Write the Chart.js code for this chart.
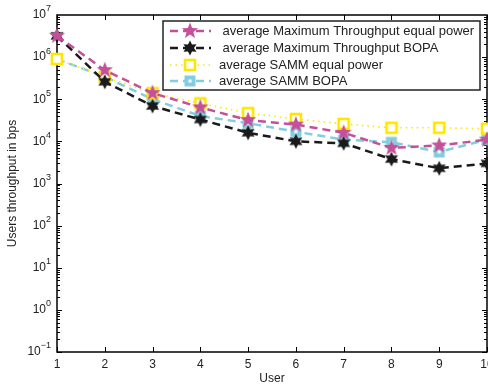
<!DOCTYPE html>
<html>
<head>
<title>Users throughput</title>
<script src="https://cdn.jsdelivr.net/npm/chart.js"></script>
<style>body{margin:0;background:#fff}</style>
</head>
<body>
<canvas id="chart" width="488" height="388"></canvas>
<script>
// values (bps)
const users = [1, 2, 3, 4, 5, 6, 7, 8, 9, 10];
const maxEqualPower = [3.2e6, 4.9e5, 1.4e5, 6.4e4, 3.2e4, 2.5e4, 1.6e4, 7.0e3, 8.0e3, 1.1e4];
const maxBopa = [3.2e6, 2.6e5, 6.9e4, 3.3e4, 1.6e4, 1.0e4, 9.0e3, 3.8e3, 2.3e3, 3.0e3];
const sammEqualPower = [9.0e5, 3.4e5, 1.4e5, 8.0e4, 4.7e4, 3.4e4, 2.6e4, 2.1e4, 2.1e4, 2.0e4];
const sammBopa = [9.0e5, 3.4e5, 1.0e5, 4.0e4, 2.7e4, 1.7e4, 1.1e4, 9.5e3, 5.6e3, 1.1e4];
const seriesNames = [
    ' average Maximum Throughput equal power',
    ' average Maximum Throughput BOPA',
    'average SAMM equal power',
    'average SAMM BOPA'
];
const yExponents = [7, 6, 5, 4, 3, 2, 1, 0, -1];

const FONT = '"Liberation Sans", Arial, sans-serif';

function makeMarker(draw) {
    const c = document.createElement('canvas');
    c.width = 18; c.height = 18;
    draw(c.getContext('2d'));
    return c;
}
function starPath(ctx, n, ro, ri) {
    ctx.beginPath();
    for (let i = 0; i < n * 2; i++) {
        const r = i % 2 ? ri : ro;
        const a = -Math.PI / 2 + i * Math.PI / n;
        ctx.lineTo(9 + r * Math.cos(a), 9 + r * Math.sin(a));
    }
    ctx.closePath();
}
const magentaStar = makeMarker(ctx => {
    starPath(ctx, 5, 8.5, 3.6);
    ctx.fillStyle = '#c4509a';
    ctx.fill();
});
const blackHex = makeMarker(ctx => {
    starPath(ctx, 6, 7.5, 4);
    ctx.fillStyle = '#1a1a1a';
    ctx.fill();
});
const yellowSquare = makeMarker(ctx => {
    ctx.fillStyle = '#fff';
    ctx.fillRect(4, 4, 10, 10);
    ctx.strokeStyle = '#ffe600';
    ctx.lineWidth = 2.6;
    ctx.strokeRect(4, 4, 10, 10);
});
const cyanSquare = makeMarker(ctx => {
    ctx.fillStyle = '#82cde2';
    ctx.fillRect(3.5, 3.5, 11, 11);
    ctx.fillStyle = '#fff';
    ctx.fillRect(7.5, 7.5, 3, 3);
});

function pts(arr) {
    return users.map((u, i) => ({ x: u, y: arr[i] }));
}

const datasets = [
    { label: seriesNames[0], data: pts(maxEqualPower), borderColor: '#c4509a', borderWidth: 2.5, borderDash: [8, 5], pointStyle: magentaStar },
    { label: seriesNames[1], data: pts(maxBopa), borderColor: '#1a1a1a', borderWidth: 2.5, borderDash: [8, 5], pointStyle: blackHex },
    { label: seriesNames[2], data: pts(sammEqualPower), borderColor: '#ffe600', borderWidth: 1.6, borderDash: [1.5, 4], pointStyle: yellowSquare },
    { label: seriesNames[3], data: pts(sammBopa), borderColor: '#82cde2', borderWidth: 2.5, borderDash: [8, 5], pointStyle: cyanSquare }
].map(d => Object.assign(d, { fill: false, tension: 0, clip: false, pointRadius: 8 }));

const axesPlugin = {
    id: 'matlabAxes',
    beforeDatasetsDraw(chart) {
        const ctx = chart.ctx;
        const a = chart.chartArea;
        const xs = chart.scales.x, ys = chart.scales.y;
        ctx.save();
        ctx.strokeStyle = '#000';
        ctx.lineWidth = 1;
        // inward ticks on all four sides
        ctx.beginPath();
        users.forEach(u => {
            const px = Math.round(xs.getPixelForValue(u)) + 0.5;
            ctx.moveTo(px, a.bottom); ctx.lineTo(px, a.bottom - 5);
            ctx.moveTo(px, a.top); ctx.lineTo(px, a.top + 5);
        });
        for (let e = -1; e < 7; e++) {
            for (let m = 1; m < 10; m++) {
                const py = Math.round(ys.getPixelForValue(m * Math.pow(10, e))) + 0.5;
                const len = m === 1 ? 5 : 3;
                ctx.moveTo(a.left, py); ctx.lineTo(a.left + len, py);
                ctx.moveTo(a.right, py); ctx.lineTo(a.right - len, py);
            }
        }
        ctx.stroke();
        ctx.lineWidth = 1.5;
        ctx.strokeRect(a.left, a.top, a.right - a.left, a.bottom - a.top);

        // tick labels
        ctx.fillStyle = '#222';
        ctx.font = '12px ' + FONT;
        ctx.textAlign = 'center';
        ctx.textBaseline = 'middle';
        users.forEach(u => ctx.fillText(String(u), xs.getPixelForValue(u), a.bottom + 13));
        yExponents.forEach(e => {
            const py = ys.getPixelForValue(Math.pow(10, e));
            const exp = String(e).replace('-', '\u2212');
            ctx.font = '9px ' + FONT;
            const ew = ctx.measureText(exp).width;
            ctx.textAlign = 'left';
            ctx.fillText(exp, 51 - ew, py - 6);
            ctx.font = '12px ' + FONT;
            ctx.textAlign = 'right';
            ctx.fillText('10', 51 - ew, py);
        });

        // axis titles
        ctx.textAlign = 'center';
        ctx.font = '12px ' + FONT;
        ctx.fillText('User', (a.left + a.right) / 2, 379);
        ctx.translate(13, (a.top + a.bottom) / 2);
        ctx.rotate(-Math.PI / 2);
        ctx.fillText('Users throughput in bps', 0, 0);
        ctx.restore();
    },
    afterDraw(chart) {
        const ctx = chart.ctx;
        ctx.save();
        const bx = 163, by = 21, bw = 317, bh = 69;
        ctx.fillStyle = '#fff';
        ctx.fillRect(bx, by, bw, bh);
        ctx.strokeStyle = '#222';
        ctx.lineWidth = 1.5;
        ctx.strokeRect(bx, by, bw, bh);
        const rows = [31, 48, 65, 81];
        chart.data.datasets.forEach((d, i) => {
            const y = rows[i];
            ctx.strokeStyle = d.borderColor;
            ctx.lineWidth = d.borderWidth;
            ctx.setLineDash(d.borderDash);
            ctx.beginPath();
            ctx.moveTo(170, y); ctx.lineTo(211, y);
            ctx.stroke();
            ctx.setLineDash([]);
            ctx.drawImage(d.pointStyle, 190 - 9, y - 9);
            ctx.fillStyle = '#222';
            ctx.font = '13px ' + FONT;
            ctx.textAlign = 'left';
            ctx.textBaseline = 'middle';
            ctx.fillText(d.label, 219, y);
        });
        ctx.restore();
    }
};

new Chart(document.getElementById('chart'), {
    type: 'line',
    data: { datasets: datasets },
    options: {
        responsive: false,
        animation: false,
        layout: { autoPadding: false, padding: { top: 15, right: 1, left: 0, bottom: 0 } },
        plugins: { legend: { display: false }, tooltip: { enabled: false } },
        scales: {
            x: {
                type: 'linear', min: 1, max: 10,
                grid: { display: false }, border: { display: false },
                ticks: { display: false },
                afterFit: s => { s.height = 36; }
            },
            y: {
                type: 'logarithmic', min: 0.1, max: 1e7,
                grid: { display: false }, border: { display: false },
                ticks: { display: false },
                afterFit: s => { s.width = 57; }
            }
        }
    },
    plugins: [axesPlugin]
});
</script>
</body>
</html>
